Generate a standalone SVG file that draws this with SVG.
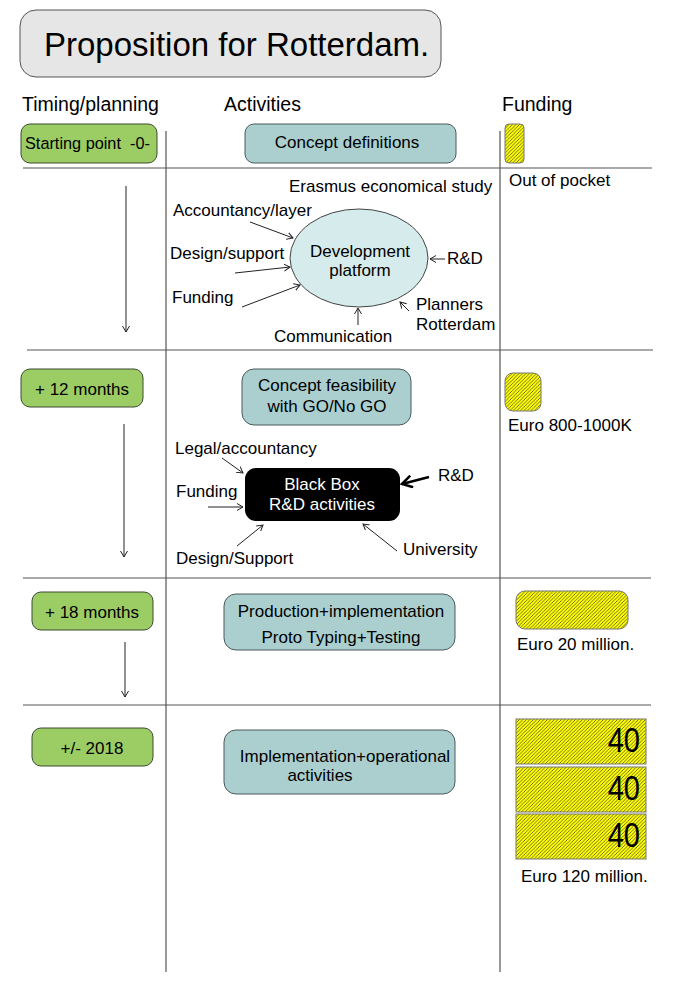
<svg xmlns="http://www.w3.org/2000/svg" width="700" height="981" viewBox="0 0 700 981">
<style>
text{font-family:"Liberation Sans",Arial,sans-serif;fill:#000}
.t{font-size:17px}
.h{font-size:19.5px}
.c{text-anchor:middle}
.green{fill:#9bcd64;stroke:#3d4a30;stroke-width:1}
.teal{fill:#abcfcf;stroke:#4a5a5a;stroke-width:1}
.hatch{fill:url(#hp);stroke:#777;stroke-width:1}
.grid{stroke:#555;stroke-width:1.2;fill:none}
.con{stroke:#222;stroke-width:1;fill:none;marker-end:url(#ah)}
.big{font-size:35px;text-anchor:end}
</style>
<defs>
<pattern id="hp" patternUnits="userSpaceOnUse" width="3.5" height="3.5">
<rect width="3.5" height="3.5" fill="#ffff00"/>
<path d="M-1,1 L1,-1 M0,3.5 L3.5,0 M2.5,4.5 L4.5,2.5" stroke="#333" stroke-width="0.7"/>
</pattern>
<marker id="ah" markerWidth="8" markerHeight="8" refX="6" refY="4" orient="auto" markerUnits="userSpaceOnUse">
<path d="M0,0.5 L6,4 L0,7.5" fill="none" stroke="#222" stroke-width="1"/>
</marker>
<marker id="ahb" markerWidth="14" markerHeight="14" refX="11" refY="7" orient="auto" markerUnits="userSpaceOnUse">
<path d="M1,1 L11,7 L1,13" fill="none" stroke="#000" stroke-width="2.5"/>
</marker>
</defs>

<g id="title">
<rect x="20" y="10" width="421" height="67" rx="16" fill="#e6e6e6" stroke="#555" stroke-width="1"/>
<text x="44" y="56" style="font-size:33px">Proposition for Rotterdam.</text>
</g>

<g id="headers">
<text class="h" x="22" y="111">Timing/planning</text>
<text class="h" x="224" y="111">Activities</text>
<text class="h" x="502" y="111">Funding</text>
</g>

<g id="grid">
<line class="grid" x1="166" y1="131" x2="166" y2="972"/>
<line class="grid" x1="500" y1="131" x2="500" y2="972"/>
<line class="grid" x1="23" y1="168" x2="652" y2="168"/>
<line class="grid" x1="27" y1="350" x2="653" y2="350"/>
<line class="grid" x1="23" y1="578" x2="651" y2="578"/>
<line class="grid" x1="23" y1="705" x2="651" y2="705"/>
</g>

<!-- Row 1 -->
<g id="start">
<rect class="green" x="21" y="124" width="136" height="39" rx="9"/>
<text x="25" y="149" xml:space="preserve" style="white-space:pre;font-size:16.3px">Starting point  -0-</text>
</g>
<g id="concept-definitions">
<rect class="teal" x="245" y="124" width="211" height="39" rx="9"/>
<text class="t c" x="347" y="148">Concept definitions</text>
</g>
<g id="fund-1">
<rect class="hatch" x="505" y="124" width="19" height="39" rx="4"/>
<text class="t" x="509" y="186">Out of pocket</text>
</g>
<g id="erasmus"><text class="t" x="289" y="192">Erasmus economical study</text></g>
<g id="dev-platform">
<ellipse cx="359" cy="258" rx="69" ry="49" fill="#d6ebeb" stroke="#444" stroke-width="1"/>
<text class="t c" x="360" y="257">Development</text>
<text class="t c" x="360" y="276">platform</text>
</g>
<g id="accountancy-layer"><text class="t" x="173" y="216">Accountancy/layer</text></g>
<g id="design-support"><text class="t" x="170" y="259">Design/support</text></g>
<g id="funding-1"><text class="t" x="172" y="303">Funding</text></g>
<g id="rd-1"><text class="t" x="447" y="264">R&amp;D</text></g>
<g id="planners"><text class="t" x="416" y="310">Planners</text><text class="t" x="416" y="330">Rotterdam</text></g>
<g id="communication"><text class="t" x="274" y="342">Communication</text></g>

<!-- Row 2 -->
<g id="m12">
<rect class="green" x="21" y="369" width="122" height="38" rx="9"/>
<text class="t c" x="82" y="395">+ 12 months</text>
</g>
<g id="concept-feasibility">
<rect class="teal" x="242" y="369" width="169" height="56" rx="12"/>
<text class="t c" x="327" y="391">Concept feasibility</text>
<text class="t c" x="327" y="412">with GO/No GO</text>
</g>
<g id="fund-2">
<rect class="hatch" x="505" y="373" width="36" height="38" rx="8"/>
<text class="t" x="508" y="431">Euro 800-1000K</text>
</g>
<g id="black-box">
<rect x="245" y="468" width="155" height="53" rx="11" fill="#000"/>
<text class="t c" x="322" y="490" style="fill:#fff">Black Box</text>
<text class="t c" x="322" y="510" style="fill:#fff">R&amp;D activities</text>
</g>
<g id="legal"><text class="t" x="175" y="454">Legal/accountancy</text></g>
<g id="funding-2"><text class="t" x="176" y="497">Funding</text></g>
<g id="rd-2"><text class="t" x="438" y="481">R&amp;D</text></g>
<g id="design-support-2"><text class="t" x="176" y="564">Design/Support</text></g>
<g id="university"><text class="t" x="403" y="555">University</text></g>

<!-- Row 3 -->
<g id="m18">
<rect class="green" x="32" y="592" width="121" height="38" rx="9"/>
<text class="t c" x="92" y="618">+ 18 months</text>
</g>
<g id="production">
<rect class="teal" x="224" y="594" width="231" height="56" rx="12"/>
<text class="t c" x="341" y="617">Production+implementation</text>
<text class="t c" x="341" y="643">Proto Typing+Testing</text>
</g>
<g id="fund-3">
<rect class="hatch" x="516" y="591" width="112" height="38" rx="9"/>
<text class="t" x="517" y="650">Euro 20 million.</text>
</g>

<!-- Row 4 -->
<g id="y2018">
<rect class="green" x="32" y="728" width="121" height="38" rx="9"/>
<text class="t c" x="92" y="754">+/- 2018</text>
</g>
<g id="implementation">
<rect class="teal" x="224" y="730" width="231" height="64" rx="12"/>
<text class="t c" x="345" y="762">Implementation+operational</text>
<text class="t c" x="320" y="781">activities</text>
</g>
<g id="fund-4">
<rect class="hatch" x="516" y="719" width="130" height="45"/>
<text class="big" transform="translate(640,752) scale(0.83,1)">40</text>
<rect class="hatch" x="516" y="767" width="130" height="45"/>
<text class="big" transform="translate(640,800) scale(0.83,1)">40</text>
<rect class="hatch" x="516" y="814" width="130" height="45"/>
<text class="big" transform="translate(640,847) scale(0.83,1)">40</text>
<text class="t" x="521" y="882">Euro 120 million.</text>
</g>

<g id="connectors">
<line class="con" x1="126" y1="186" x2="126" y2="332"/>
<line class="con" x1="124" y1="424" x2="124" y2="557"/>
<line class="con" x1="125" y1="642" x2="125" y2="697"/>
<line class="con" x1="250" y1="222" x2="293" y2="238"/>
<line class="con" x1="235" y1="273" x2="290" y2="267"/>
<line class="con" x1="242" y1="307" x2="300" y2="285"/>
<line class="con" x1="445" y1="259" x2="430" y2="259"/>
<line class="con" x1="409" y1="311" x2="400" y2="302"/>
<line class="con" x1="358" y1="325" x2="358" y2="308"/>
<line class="con" x1="222" y1="458" x2="243" y2="473"/>
<line class="con" x1="208" y1="507" x2="243" y2="507"/>
<line x1="429" y1="477" x2="402" y2="484" stroke="#000" stroke-width="2.5" marker-end="url(#ahb)"/>
<line class="con" x1="237" y1="546" x2="263" y2="525"/>
<line class="con" x1="397" y1="551" x2="363" y2="524"/>
</g>
</svg>
